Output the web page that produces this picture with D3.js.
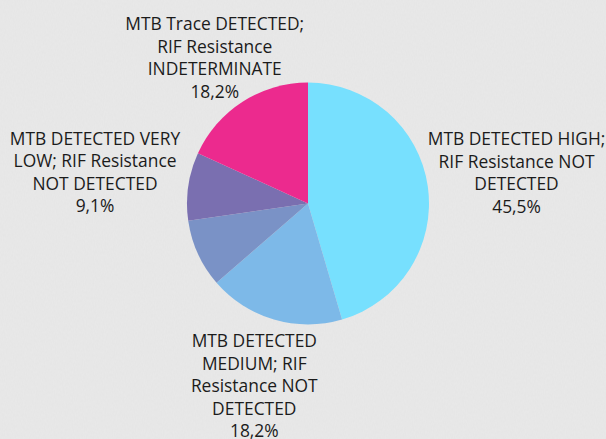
<!DOCTYPE html>
<html>
<head>
<meta charset="utf-8">
<script src="https://cdn.jsdelivr.net/npm/d3@7"></script>
<style>
  html, body { margin: 0; padding: 0; background: #e7e7e7; }
  svg { display: block; }
  .lbl { font-family: "Open Sans", sans-serif; fill: #1b1b1b; }
</style>
</head>
<body>
<svg width="606" height="439"></svg>
<script>
// data, clockwise from 12 o'clock
var categories = [
  "MTB DETECTED HIGH;\nRIF Resistance NOT\nDETECTED",
  "MTB DETECTED\nMEDIUM; RIF\nResistance NOT\nDETECTED",
  "MTB DETECTED LOW; RIF Resistance NOT DETECTED",
  "MTB DETECTED VERY\nLOW; RIF Resistance\nNOT DETECTED",
  "MTB Trace DETECTED;\nRIF Resistance\nINDETERMINATE"
];
var values = [45.5, 18.2, 9.1, 9.1, 18.2];
var valueLabels = ["45,5%", "18,2%", "9,1%", "9,1%", "18,2%"];
var showLabel = [true, true, false, true, true];
var colors = ["#77e0fe", "#7db9e8", "#7a92c6", "#7a6fb0", "#ec2a8e"];

var svg = d3.select("svg"),
    width = +svg.attr("width"),
    height = +svg.attr("height");

// paper-ish texture
var defs = svg.append("defs");
var filt = defs.append("filter").attr("id", "paper")
    .attr("x", 0).attr("y", 0).attr("width", "100%").attr("height", "100%");
filt.append("feTurbulence").attr("type", "fractalNoise")
    .attr("baseFrequency", "0.9 0.35").attr("numOctaves", 2).attr("seed", 3);
filt.append("feColorMatrix").attr("type", "matrix")
    .attr("values", "0 0 0 0 0.5  0 0 0 0 0.5  0 0 0 0 0.5  0 0 0 0.09 0");
svg.append("rect").attr("width", width).attr("height", height).attr("fill", "#e9e9e9");
svg.append("rect").attr("width", width).attr("height", height).attr("filter", "url(#paper)");

var cx = 308, cy = 203.5, R = 121;

var pie = d3.pie().sort(null).value(function(d) { return d; });
var arcs = pie(values);
var arc = d3.arc().innerRadius(0).outerRadius(R);

var g = svg.append("g").attr("transform", "translate(" + cx + "," + cy + ")");

g.selectAll("path")
    .data(arcs)
    .enter().append("path")
    .attr("d", arc)
    .attr("fill", function(d, i) { return colors[i]; });

var fontSize = 17.4, lineH = 22.5;
// how far out each label box starts (excel nudges them a bit)
var labelGap = [0, 11, 0, 8, -2];

arcs.forEach(function(d, i) {
    if (!showLabel[i]) return;
    var lines = categories[i].split("\n").concat([valueLabels[i]]);
    var t = g.append("text").attr("class", "lbl")
        .attr("font-size", fontSize)
        .attr("text-anchor", "middle");
    lines.forEach(function(s, k) {
        t.append("tspan").attr("x", 0).attr("y", k * lineH).text(s);
    });
    var bb = t.node().getBBox();
    var w = bb.width, h = lines.length * lineH;
    var mid = (d.startAngle + d.endAngle) / 2;
    var ux = Math.sin(mid), uy = -Math.cos(mid);
    var r0 = R + labelGap[i];
    var ax = ux * r0, ay = uy * r0;
    var tt = Math.min(Math.abs(ux) > 1e-6 ? w / 2 / Math.abs(ux) : 1e9,
                      Math.abs(uy) > 1e-6 ? h / 2 / Math.abs(uy) : 1e9);
    var bx = ax + ux * tt, by = ay + uy * tt;
    var top = by - h / 2;
    t.attr("transform", "translate(" + bx + "," + (top + lineH * 0.75) + ")");
});
</script>
</body>
</html>
